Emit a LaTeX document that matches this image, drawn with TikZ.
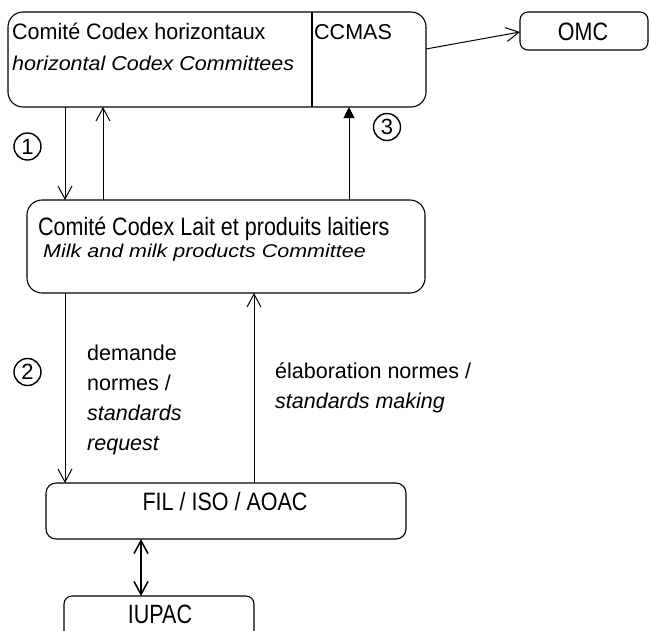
\documentclass[tikz,border=0pt]{standalone}
\usepackage{graphicx}
\usepackage{fontspec}
\setmainfont{Liberation Sans}
\usetikzlibrary{arrows.meta,calc}
\newcommand\ystretch[2]{\scalebox{1}[#1]{#2}}
\begin{document}
\begin{tikzpicture}[x=1pt,y=-1pt,
  font=\fontsize{21.5}{30}\selectfont,
  box/.style={draw,line width=1.1pt,rounded corners=#1,outer sep=0pt,inner sep=0pt},
  lbl/.style={anchor=base west,inner sep=0pt},
  ctr/.style={anchor=base,inner sep=0pt},
  num/.style={circle,draw,line width=1.4pt,minimum size=27pt,inner sep=0pt,font=\fontsize{22}{22}\selectfont},
  conn/.style={line width=1pt},
  opn/.style={conn,-{Straight Barb[length=13pt,width=14pt]}},
  fil/.style={conn,-{Triangle[length=11pt,width=11pt]}},
  dbl/.style={line width=1.5pt,{Straight Barb[length=13pt,width=14pt]}-{Straight Barb[length=13pt,width=14pt]}}]
\useasboundingbox (0,0) rectangle (650,630);
\clip (0,0) rectangle (650,630);
% boxes
\node[box=15pt,minimum width=418pt,minimum height=95pt] (top) at (217,59.5) {};
\node[box=8pt,minimum width=128pt,minimum height=38pt] (omc) at (584,31) {};
\node[box=15pt,minimum width=398pt,minimum height=93pt] (milk) at (226,246.5) {};
\node[box=10pt,minimum width=360pt,minimum height=56pt] (fil) at (226,511) {};
\node[box=8pt,minimum width=190pt,minimum height=70pt] (iupac) at (159,631) {};
% divider
\coordinate (dv) at (312,0);
\draw[line width=1.1pt] (top.north -| dv) -- (top.south -| dv);
% texts
\node[lbl] (t1) at (12,39.5) {\ystretch{1.04}{Comité Codex horizontaux}};
\node[lbl] (t2) at (12,70) {\ystretch{0.93}{\itshape horizontal Codex Committees}};
\node[lbl] (t3) at (314,39.5) {CCMAS};
\node[ctr] (t4) at (583,40) {\ystretch{1.17}{OMC}};
\node[lbl] (m1) at (38,235.5) {\ystretch{1.17}{Comité Codex Lait et produits laitiers}};
\node[lbl] (m2) at (43,257.5) {\ystretch{0.86}{\itshape Milk and milk products Committee}};
\node[lbl] (d1) at (87,360) {demande};
\node[lbl] (d2) at (87,390) {normes /};
\node[lbl] (d3) at (87,420) {\itshape standards};
\node[lbl] (d4) at (87,450) {\itshape request};
\node[lbl] (e1) at (275,378) {élaboration normes /};
\node[lbl] (e2) at (275,408) {\itshape standards making};
\node[ctr] (f1) at (225,510) {\ystretch{1.17}{FIL / ISO / AOAC}};
\node[ctr] (i1) at (160,623) {\ystretch{1.23}{IUPAC}};
\node[num] (n1) at (27.5,146.5) {1};
\node[num] (n2) at (27.5,372) {2};
\node[num] (n3) at (387,127) {3};
% connector x positions
\coordinate (xa) at (65,0);
\coordinate (xb) at (103,0);
\coordinate (xc) at (349,0);
\coordinate (xd) at (254,0);
\coordinate (xe) at (141,0);
\coordinate (ya) at (0,49);
\coordinate (yb) at (0,32);
% connectors
\draw[opn] (top.east |- ya) -- (omc.west |- yb);
\draw[opn] (top.south -| xa) -- (milk.north -| xa);
\draw[opn] (milk.north -| xb) -- (top.south -| xb);
\draw[fil] (milk.north -| xc) -- (top.south -| xc);
\draw[opn] (milk.south -| xa) -- (fil.north -| xa);
\draw[opn] (fil.north -| xd) -- (milk.south -| xd);
\draw[dbl] (fil.south -| xe) -- (iupac.north -| xe);
\end{tikzpicture}
\end{document}
